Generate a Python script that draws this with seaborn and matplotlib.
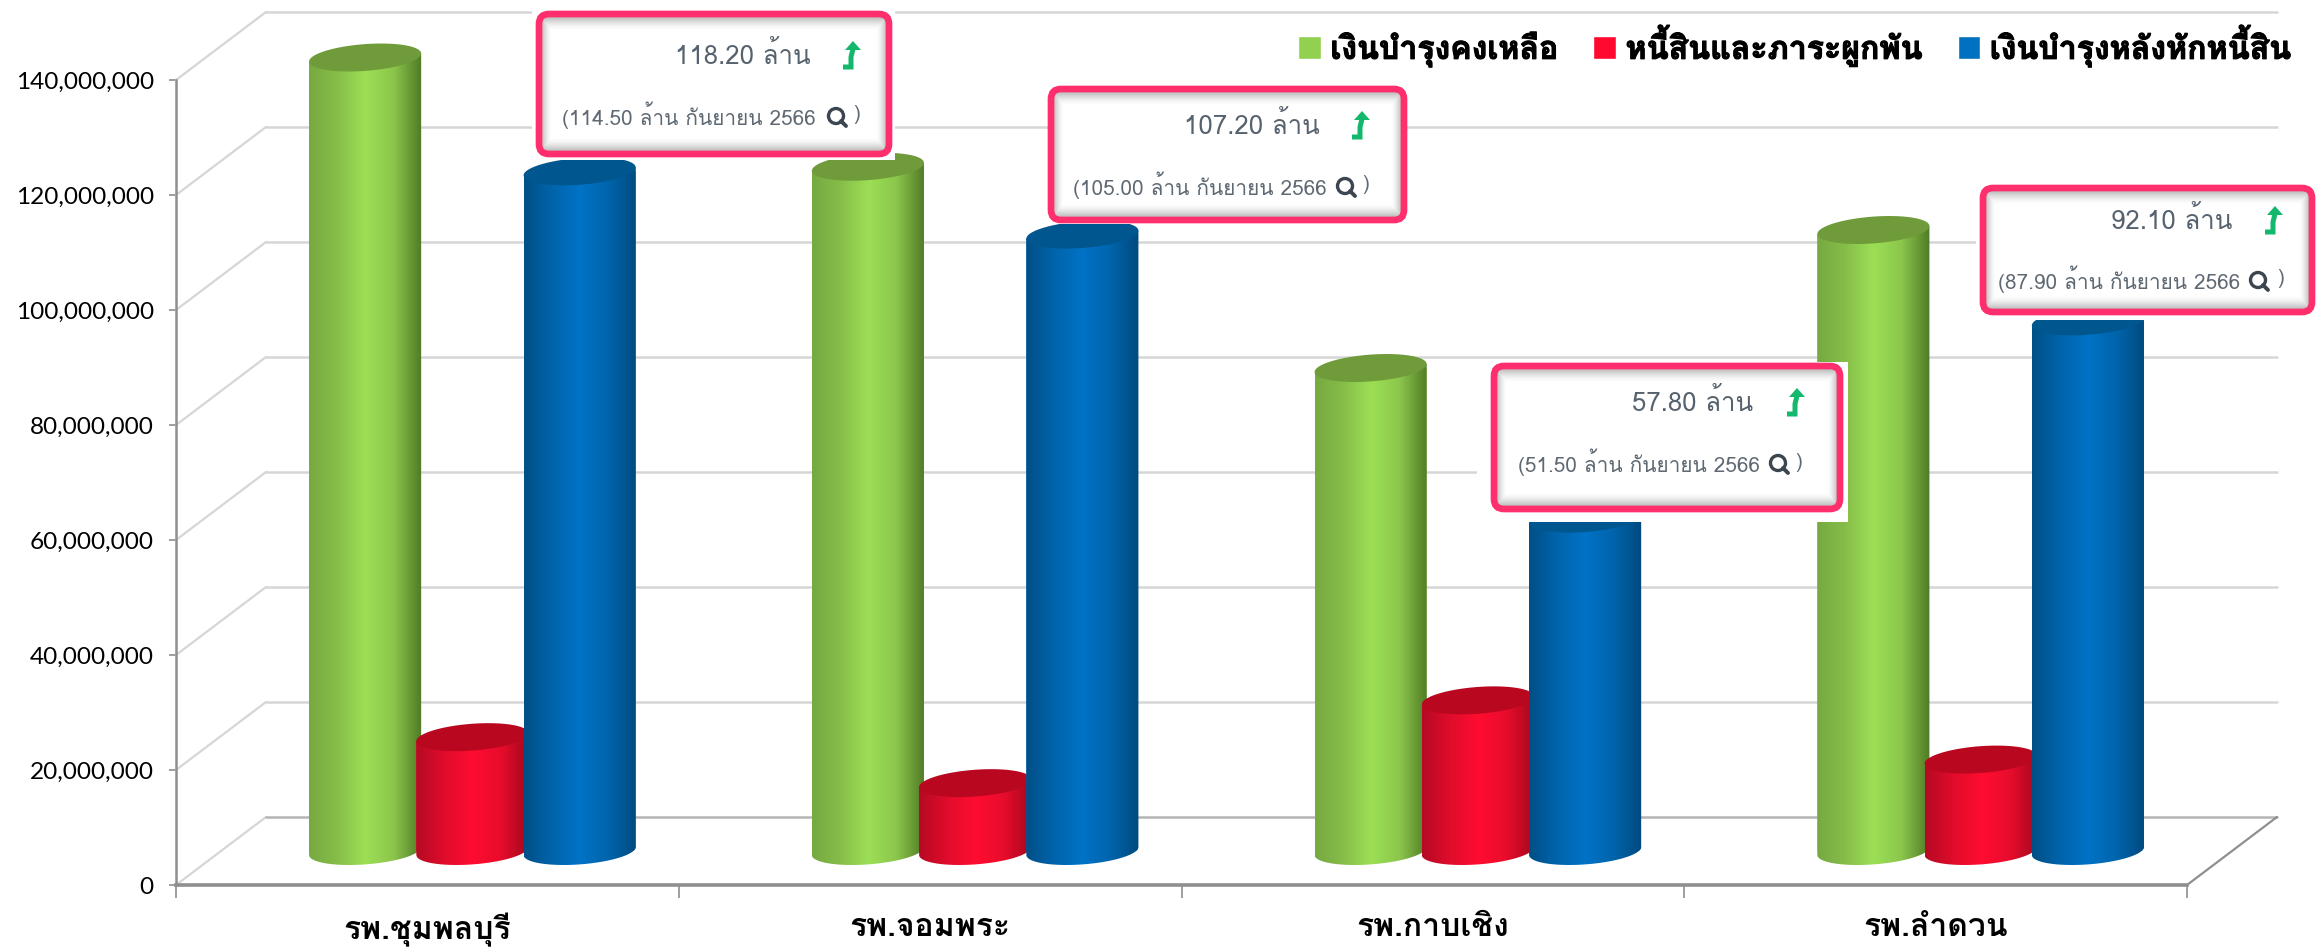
import numpy as np
import pandas as pd
import matplotlib
matplotlib.use("Agg")
import matplotlib.pyplot as plt
import matplotlib.patheffects as pe
import seaborn as sns
from matplotlib import font_manager
from matplotlib.colors import LinearSegmentedColormap
from matplotlib.patches import Ellipse, FancyBboxPatch, Polygon, Rectangle
from matplotlib.path import Path
from matplotlib.ticker import FuncFormatter
from matplotlib.ft2font import FT2Font

# data
hospitals = ["รพ.ชุมพลบุรี", "รพ.จอมพระ", "รพ.กาบเชิง", "รพ.ลำดวน"]
series_names = ["เงินบำรุงคงเหลือ", "หนี้สินและภาระผูกพัน", "เงินบำรุงหลังหักหนี้สิน"]
balance = [138000000, 119000000, 84000000, 108000000]
debts = [19800000, 11800000, 26200000, 15900000]
after_debts = [118200000, 107200000, 57800000, 92100000]
y_ticks = [0, 20000000, 40000000, 60000000, 80000000, 100000000, 120000000, 140000000]
note_values = ["118.20 ล้าน", "107.20 ล้าน", "57.80 ล้าน", "92.10 ล้าน"]
note_previous = ["(114.50 ล้าน กันยายน 2566", "(105.00 ล้าน กันยายน 2566",
                 "(51.50 ล้าน กันยายน 2566", "(87.90 ล้าน กันยายน 2566"]

W, H = 2318, 951

# look for a font that has Thai, the usual installed ones mostly do not
thai_fonts = []
for f in font_manager.fontManager.ttflist:
    try:
        if 0x0E01 in FT2Font(f.fname).get_charmap() and f.name not in thai_fonts:
            thai_fonts.append(f.name)
    except Exception:
        pass

sns.set_theme(style="white")
plt.rcParams["font.family"] = thai_fonts[:1] + ["Lato", "Noto Sans", "DejaVu Sans"]
num_font = ["Lato", "DejaVu Sans"]

df = pd.DataFrame({
    "hospital": hospitals * 3,
    "series": [s for s in series_names for _ in hospitals],
    "value": balance + debts + after_debts,
})
palette = dict(zip(series_names, ["#92d050", "#ff0a2e", "#0070c0"]))

fig = plt.figure(figsize=(W / 100, H / 100), dpi=100, facecolor="white")


def ax_rect(x0, x1, y_bottom, y_top):
    return [x0 / W, 1 - y_bottom / H, (x1 - x0) / W, (y_bottom - y_top) / H]


# front plane: carries ticks and labels
ax = fig.add_axes(ax_rect(176, 2187, 885, 80))
ax.set_xlim(-0.5, 3.5)
ax.set_ylim(0, 140000000)
x_unit = 4 / (2187 - 176)
y_unit = 140000000 / (885 - 80)
depth_x = 90 * x_unit
depth_y = 68 * y_unit

for s in ["top", "right"]:
    ax.spines[s].set_visible(False)
ax.spines["left"].set_color("#8f8f8f")
ax.spines["left"].set_linewidth(1.8)
ax.spines["bottom"].set_color("#8f8f8f")
ax.spines["bottom"].set_linewidth(2.6)
ax.set_yticks(y_ticks)
ax.yaxis.set_major_formatter(FuncFormatter(lambda v, _: f"{int(v):,}"))
ax.tick_params(axis="y", left=True, length=5, width=1.2, color="#8f8f8f", pad=11, labelsize=17.6, labelcolor="black")
for t in ax.get_yticklabels():
    t.set_family(num_font)
ax.set_xticks([-0.5, 0.5, 1.5, 2.5, 3.5], [""] * 5)
ax.tick_params(axis="x", which="major", bottom=True, length=9, width=1.2, color="#8f8f8f")
ax.set_xticks(range(4), hospitals, minor=True)
ax.tick_params(axis="x", which="minor", bottom=False, length=0, pad=20, labelsize=23, labelcolor="black")
for t in ax.get_xticklabels(minor=True):
    t.set_fontweight("bold")

# back wall and left wall lines
for v in y_ticks:
    col = "#d6d6d6"
    ax.plot([-0.5, -0.5 + depth_x], [v, v + depth_y], color=col, lw=1.6, clip_on=False, zorder=1)
    ax.plot([-0.5 + depth_x, 3.5 + depth_x], [v + depth_y, v + depth_y],
            color="#b5b5b5" if v == 0 else col, lw=1.8, clip_on=False, zorder=1)
ax.plot([3.5, 3.5 + depth_x], [0, depth_y], color="#8f8f8f", lw=1.6, clip_on=False, zorder=1)

# bars sit half way into the floor
ax_bars = fig.add_axes(ax_rect(176 + 45, 2187 + 45, 851 + 40, 0))
ax_bars.patch.set_alpha(0)
sns.barplot(data=df, x="hospital", y="value", hue="series", hue_order=series_names,
            order=hospitals, palette=palette, width=0.64, gap=-0.045, saturation=1,
            ax=ax_bars)
ax_bars.set_xlim(-0.5, 3.5)
ax_bars.set_ylim(-40 * y_unit, 851 * y_unit)
ax_bars.axis("off")

shades = [
    (["#76a942", "#86bd49", "#9cdf55", "#8cc64c", "#4f7a25"], "#6f9b3a"),
    (["#b50a24", "#e00c2b", "#ff0d30", "#e80c2c", "#a3081d"], "#b90720"),
    (["#004f86", "#0064ac", "#0072c6", "#0064ac", "#004a7e"], "#00578f"),
]
half_h = 13.4 * y_unit
skew = 4 * y_unit
t = np.linspace(0, np.pi, 60)

for i, container in enumerate(ax_bars.containers):
    cmap = LinearSegmentedColormap.from_list(f"cyl{i}", shades[i][0])
    for bar in container:
        x0, w, h = bar.get_x(), bar.get_width(), bar.get_height()
        cx = x0 + w / 2
        a = w / 2
        # outline of the cylinder: flat sides, rounded bottom
        low_x = cx + a * np.cos(t)
        low_y = -half_h * np.sin(t) + skew * np.cos(t)
        outline = np.column_stack([
            np.r_[cx + a, low_x, cx - a],
            np.r_[h + skew, low_y, h - skew],
        ])
        path = Path(np.vstack([outline, outline[:1]]))
        z = 3 + i
        bar.set_zorder(z)
        bar.set_clip_path(path, transform=ax_bars.transData)
        bar.set_linewidth(0)
        im = ax_bars.imshow(np.linspace(0, 1, 256)[None, :], cmap=cmap, aspect="auto",
                            extent=[cx - a, cx + a, -30 * y_unit, h + 20 * y_unit],
                            zorder=z + 0.1, interpolation="bilinear")
        im.set_clip_path(path, transform=ax_bars.transData)
        tt = np.linspace(0, 2 * np.pi, 100)
        cap = np.column_stack([cx + a * np.cos(tt),
                               h + half_h * np.sin(tt) + skew * np.cos(tt)])
        ax_bars.add_patch(Polygon(cap, closed=True, facecolor=shades[i][1], edgecolor="none",
                                  zorder=z + 0.2))
ax_bars.set_xlim(-0.5, 3.5)
ax_bars.set_ylim(-40 * y_unit, 851 * y_unit)

sns.move_legend(ax_bars, "upper right", bbox_to_anchor=(2291 / W, 1 - 24 / H),
                bbox_transform=fig.transFigure, ncol=3, title=None, frameon=False,
                fontsize=23.1, handlelength=0.7, handleheight=0.7, handletextpad=0.3,
                columnspacing=1.1, borderpad=0, borderaxespad=0)
for txt in ax_bars.get_legend().get_texts():
    txt.set_fontweight("bold")
    txt.set_color("black")
    txt.set_path_effects([pe.withStroke(linewidth=0.8, foreground="black")])

# callouts are pasted over the chart, laid out in pixels
over = fig.add_axes([0, 0, 1, 1], zorder=20)
over.set_xlim(0, W)
over.set_ylim(H, 0)
over.axis("off")

boxes = [
    # white patch, border box, value right, arrow x, value y, note left, note y, lens x, paren x
    ((532, 10, 895, 160), (539, 14, 889, 154), 811, 853, 55, 562, 115, 836, 857),
    ((1048, 85, 1407, 224), (1051, 89, 1404, 220), 1320, 1362, 125, 1073, 185, 1345, 1366),
    ((1477, 362, 1848, 522), (1494, 366, 1840, 509), 1753, 1797, 402, 1518, 462, 1778, 1799),
    ((1976, 182, 2318, 320), (1983, 188, 2312, 312), 2232, 2275, 220, 1998, 279, 2258, 2281),
]

for k, (patch, border, val_x, arrow_x, val_y, note_x, note_y, lens_x, paren_x) in enumerate(boxes):
    px0, py0, px1, py1 = patch
    over.add_patch(Rectangle((px0, py0), px1 - px0, py1 - py0, facecolor="white", edgecolor="none", zorder=1))
    bx0, by0, bx1, by1 = border
    # soft inner shadow
    nx, ny = bx1 - bx0, by1 - by0
    xx, yy = np.meshgrid(np.arange(nx), np.arange(ny))
    dist = np.minimum(np.minimum(xx, nx - 1 - xx) * 1.3, np.minimum(yy, ny - 1 - yy))
    rgba = np.zeros((ny, nx, 4))
    rgba[..., :3] = 0.55
    rgba[..., 3] = np.clip(1 - dist / 16, 0, 1) ** 1.6 * 0.8
    over.imshow(rgba, extent=[bx0, bx1, by1, by0], aspect="auto", zorder=2)
    over.add_patch(FancyBboxPatch((bx0, by0), bx1 - bx0, by1 - by0,
                                  boxstyle="round,pad=0,rounding_size=10", facecolor="none",
                                  edgecolor="#ff2e6c", linewidth=4.8, zorder=3))
    over.text(val_x, val_y, note_values[k], ha="right", va="center", fontsize=18.6,
              color="#56626e", zorder=4)
    # green up arrow
    over.plot([arrow_x - 10, arrow_x - 2, arrow_x - 2, arrow_x], [val_y + 12, val_y + 12, val_y + 2, val_y - 6],
              color="#14b86c", lw=3.6, solid_capstyle="butt", solid_joinstyle="miter", zorder=4)
    over.add_patch(Polygon([[arrow_x - 8, val_y - 5], [arrow_x + 8, val_y - 5], [arrow_x, val_y - 14]],
                           closed=True, facecolor="#14b86c", edgecolor="none", zorder=4))
    over.text(note_x, note_y, note_previous[k], ha="left", va="center", fontsize=15,
              color="#5f6973", zorder=4)
    over.add_patch(Ellipse((lens_x, note_y + 1), 15, 15, facecolor="none", edgecolor="#3b4650", lw=2.4, zorder=4))
    over.plot([lens_x + 5, lens_x + 10], [note_y + 6, note_y + 11], color="#3b4650", lw=2.8, zorder=4)
    over.text(paren_x, note_y, ")", ha="center", va="center", fontsize=15, color="#5f6973", zorder=4)
over.set_xlim(0, W)
over.set_ylim(H, 0)

fig.savefig("out.png", dpi=100)
